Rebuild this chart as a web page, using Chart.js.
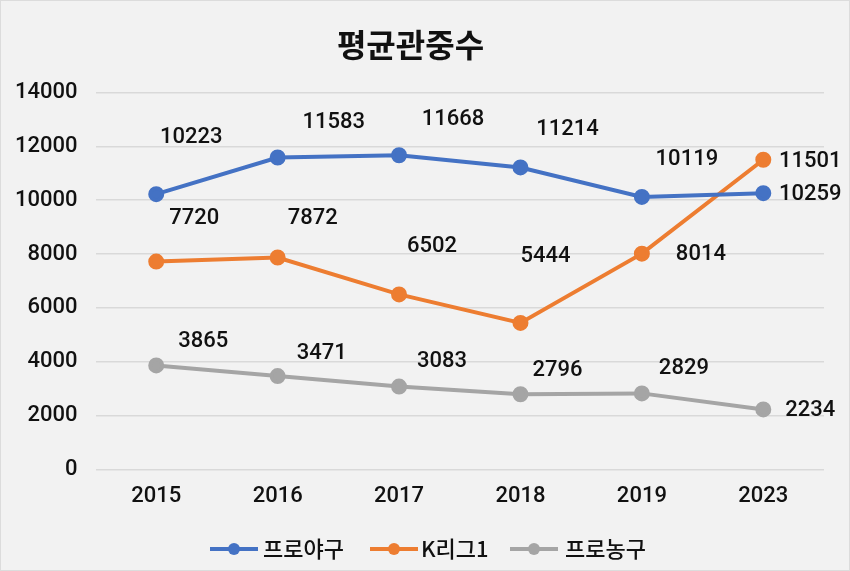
<!DOCTYPE html>
<html lang="ko">
<head>
    <meta charset="UTF-8">
    <title>평균관중수</title>
    <script src="https://cdn.jsdelivr.net/npm/chart.js"></script>
    <style>
        body {
            margin: 0;
            background-color: #f2f2f2;
        }
        .container {
            width: 850px;
            height: 571px;
            box-sizing: border-box;
            border: 1px solid #dcdcdc;
            background: #f2f2f2;
        }
    </style>
</head>
<body>
    <div class="container">
        <canvas id="myChart" width="848" height="569"></canvas>
    </div>
    <script>
        const years = ['2015', '2016', '2017', '2018', '2019', '2023'];
        const baseball = [10223, 11583, 11668, 11214, 10119, 10259];
        const kleague = [7720, 7872, 6502, 5444, 8014, 11501];
        const basketball = [3865, 3471, 3083, 2796, 2829, 2234];
        const yTicks = [0, 2000, 4000, 6000, 8000, 10000, 12000, 14000];

        const FONT = "Roboto, 'Noto Sans CJK KR', sans-serif";
        const KFONT = "'Noto Sans CJK KR', sans-serif";

        // where each value label sits relative to its point (dx, dy)
        const labelOffsets = [
            [[35, -57], [56, -35], [54, -36], [47, -38], [45, -37], [47, 1]],
            [[38, -43], [35, -39], [33, -48], [25, -66], [59, 1], [47, 2]],
            [[47, -24], [44, -23], [43, -25], [37, -24], [42, -25], [47, 1]]
        ];

        const valueLabels = {
            id: 'valueLabels',
            afterDatasetsDraw(chart) {
                const ctx = chart.ctx;
                ctx.save();
                ctx.font = '500 22px ' + FONT;
                ctx.fillStyle = '#111';
                ctx.textAlign = 'center';
                ctx.textBaseline = 'middle';
                chart.data.datasets.forEach((ds, i) => {
                    chart.getDatasetMeta(i).data.forEach((pt, j) => {
                        const off = labelOffsets[i][j];
                        ctx.fillText(String(ds.data[j]), pt.x + off[0], pt.y + off[1]);
                    });
                });
                ctx.restore();
            }
        };

        // legend drawn as line + dot, like the spreadsheet original
        const lineLegend = {
            id: 'lineLegend',
            afterDraw(chart) {
                const ctx = chart.ctx;
                const items = [[209, 262], [369, 420], [509, 564]];
                const y = 548;
                ctx.save();
                chart.data.datasets.forEach((ds, i) => {
                    const x0 = items[i][0];
                    ctx.strokeStyle = ds.borderColor;
                    ctx.lineWidth = 4;
                    ctx.beginPath();
                    ctx.moveTo(x0, y);
                    ctx.lineTo(x0 + 48, y);
                    ctx.stroke();
                    ctx.fillStyle = ds.borderColor;
                    ctx.beginPath();
                    ctx.arc(x0 + 24, y, 6, 0, Math.PI * 2);
                    ctx.fill();
                    ctx.fillStyle = '#111';
                    ctx.font = '500 22px ' + KFONT;
                    ctx.textAlign = 'left';
                    ctx.textBaseline = 'middle';
                    ctx.fillText(ds.label, items[i][1], y);
                });
                ctx.restore();
            }
        };

        function makeSet(label, data, color) {
            return {
                label: label,
                data: data,
                borderColor: color,
                backgroundColor: color,
                borderWidth: 4,
                pointRadius: 6,
                pointHoverRadius: 6,
                tension: 0
            };
        }

        const ctx = document.getElementById('myChart').getContext('2d');
        const myChart = new Chart(ctx, {
            type: 'line',
            data: {
                labels: years,
                datasets: [
                    makeSet('프로야구', baseball, '#4472c4'),
                    makeSet('K리그1', kleague, '#ed7d31'),
                    makeSet('프로농구', basketball, '#a5a5a5')
                ]
            },
            options: {
                responsive: false,
                animation: false,
                layout: {
                    padding: { left: -4, right: 25, top: 0, bottom: 54 }
                },
                plugins: {
                    legend: { display: false },
                    tooltip: { enabled: false },
                    title: {
                        display: true,
                        text: '평균관중수',
                        color: '#111',
                        font: { family: KFONT, size: 32, weight: 'bold' },
                        padding: { top: 25, bottom: 28 }
                    }
                },
                scales: {
                    x: {
                        offset: true,
                        grid: { display: false },
                        border: { display: false },
                        ticks: {
                            color: '#111',
                            font: { family: FONT, size: 22, weight: '500' },
                            padding: 6
                        }
                    },
                    y: {
                        min: 0,
                        max: 14000,
                        afterBuildTicks(axis) {
                            axis.ticks = yTicks.map(v => ({ value: v }));
                        },
                        grid: { color: '#d9d9d9', lineWidth: 1.5, drawTicks: false },
                        border: { display: false },
                        ticks: {
                            color: '#111',
                            font: { family: FONT, size: 22, weight: '500' },
                            padding: 18,
                            callback: v => String(v)
                        }
                    }
                }
            },
            plugins: [valueLabels, lineLegend]
        });
    </script>
</body>
</html>
